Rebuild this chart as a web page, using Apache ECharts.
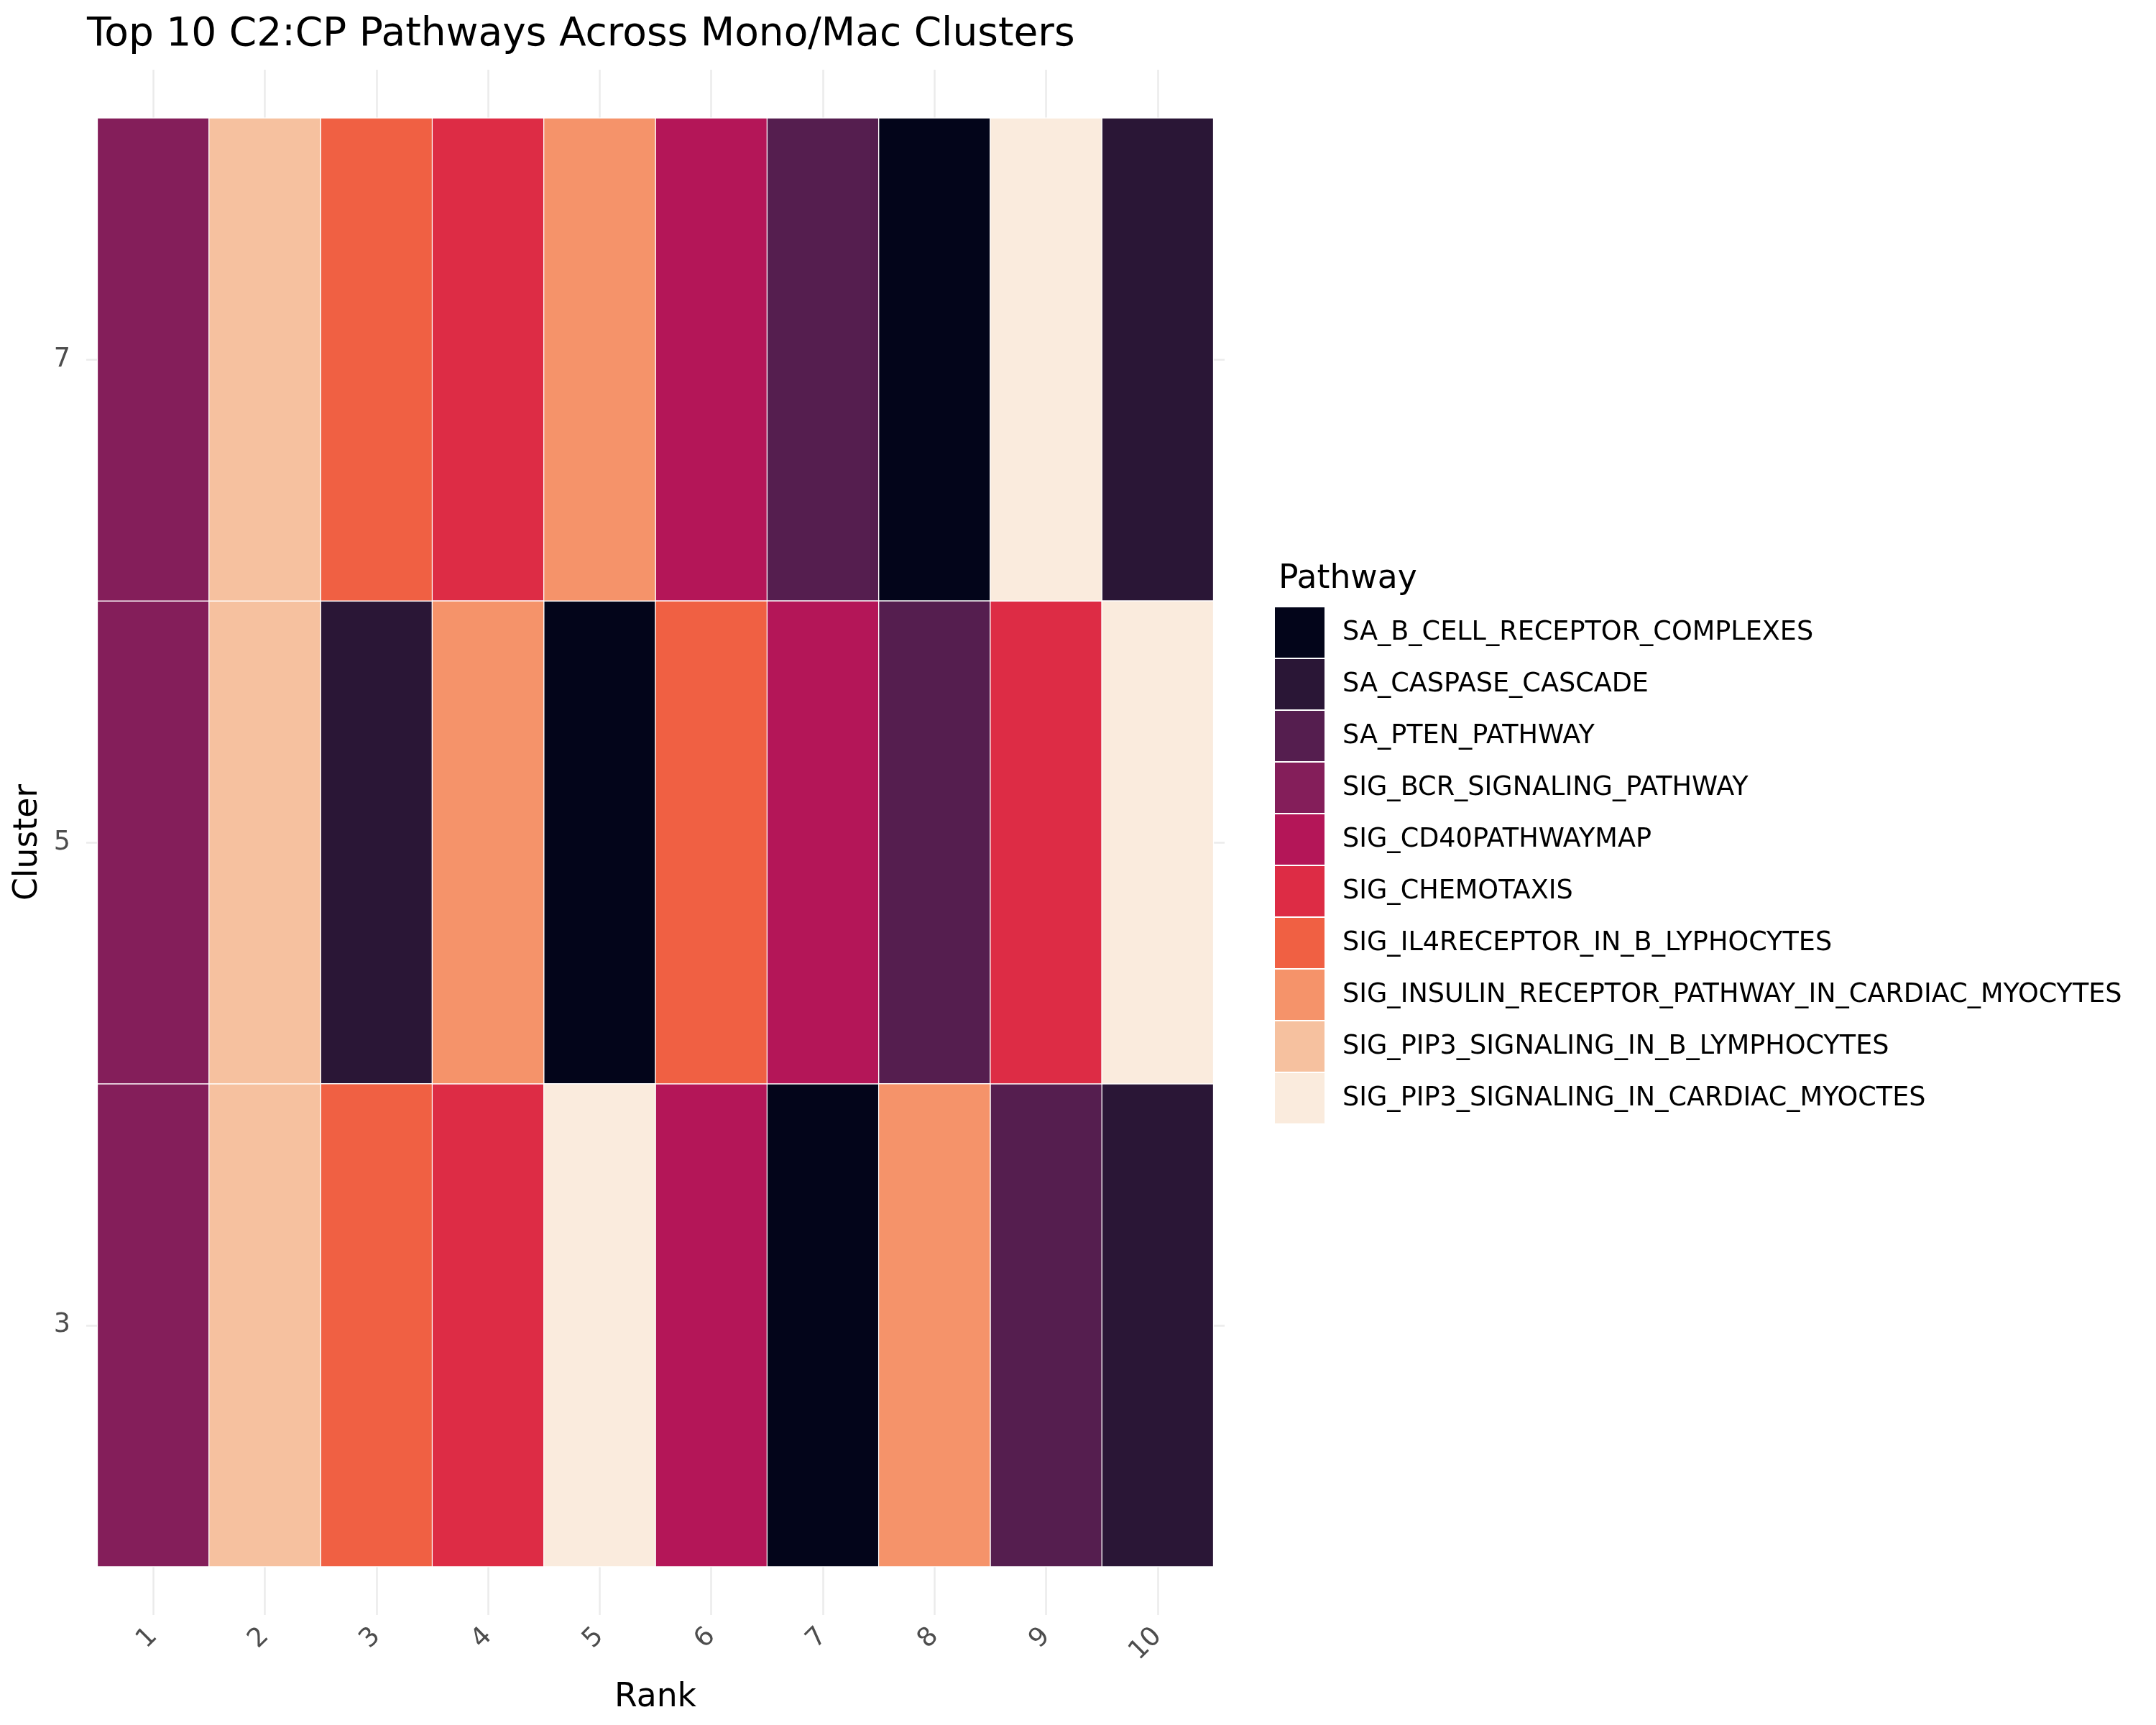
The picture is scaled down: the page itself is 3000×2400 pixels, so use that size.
<!DOCTYPE html>
<html>
<head>
<meta charset="utf-8">
<script src="https://cdn.jsdelivr.net/npm/echarts@6/dist/echarts.min.js"></script>
<style>
  html, body { margin: 0; padding: 0; background: #fff; }
  #chart { width: 3000px; height: 2400px; }
</style>
</head>
<body>
<div id="chart"></div>
<script>
// pathway names (legend order) and their rocket colours
const pathways = [
  'SA_B_CELL_RECEPTOR_COMPLEXES',
  'SA_CASPASE_CASCADE',
  'SA_PTEN_PATHWAY',
  'SIG_BCR_SIGNALING_PATHWAY',
  'SIG_CD40PATHWAYMAP',
  'SIG_CHEMOTAXIS',
  'SIG_IL4RECEPTOR_IN_B_LYPHOCYTES',
  'SIG_INSULIN_RECEPTOR_PATHWAY_IN_CARDIAC_MYOCYTES',
  'SIG_PIP3_SIGNALING_IN_B_LYMPHOCYTES',
  'SIG_PIP3_SIGNALING_IN_CARDIAC_MYOCTES'
];
const colors = ['#03051A', '#2A1636', '#551E4F', '#841E5A', '#B41658',
  '#DD2C45', '#F06043', '#F5936A', '#F6C19F', '#FAEBDD'];

const clusters = [3, 5, 7];
const ranks = [1, 2, 3, 4, 5, 6, 7, 8, 9, 10];
const clusterTicks = [3, 5, 7];

// pathway index at rank 1..10 for each cluster
const cluster7 = [3, 8, 6, 5, 7, 4, 2, 0, 9, 1];
const cluster5 = [3, 8, 1, 7, 0, 6, 4, 2, 5, 9];
const cluster3 = [3, 8, 6, 5, 9, 4, 0, 7, 2, 1];
const byCluster = { 3: cluster3, 5: cluster5, 7: cluster7 };

const fontFamily = 'DejaVu Sans';

function renderTile(params, api) {
  const x = api.value(0);
  const y = api.value(1);
  const p0 = api.coord([x - 0.5, y + 1]);
  const p1 = api.coord([x + 0.5, y - 1]);
  return {
    type: 'rect',
    shape: { x: p0[0], y: p0[1], width: p1[0] - p0[0], height: p1[1] - p0[1] },
    style: { fill: api.visual('color'), stroke: '#ffffff', lineWidth: 1.2 }
  };
}

const series = pathways.map((name, pi) => {
  const data = [];
  clusters.forEach(c => {
    byCluster[c].forEach((p, ri) => {
      if (p === pi) data.push([ranks[ri], c]);
    });
  });
  return {
    name: name,
    type: 'custom',
    renderItem: renderTile,
    itemStyle: { color: colors[pi] },
    encode: { x: 0, y: 1 },
    data: data
  };
});

const chart = echarts.init(document.getElementById('chart'));
chart.setOption({
  animation: false,
  backgroundColor: '#ffffff',
  textStyle: { fontFamily: fontFamily },
  title: [
    {
      text: 'Top 10 C2:CP Pathways Across Mono/Mac Clusters',
      left: 116, top: 16,
      textStyle: { fontFamily: fontFamily, fontSize: 55, fontWeight: 'normal', color: '#000' }
    },
    {
      text: 'Pathway',
      left: 1774, top: 778,
      textStyle: { fontFamily: fontFamily, fontSize: 45.7, fontWeight: 'normal', color: '#000' }
    }
  ],
  legend: {
    orient: 'vertical',
    left: 1774, top: 845,
    padding: 0,
    icon: 'rect',
    itemWidth: 69,
    itemHeight: 70,
    itemGap: 2,
    data: pathways,
    textStyle: { fontFamily: fontFamily, fontSize: 36.6, color: '#000', padding: [0, 0, 0, 20] }
  },
  grid: { left: 120, right: 1296, top: 97, bottom: 153, containLabel: false, outerBoundsMode: 'none' },
  xAxis: {
    type: 'value',
    min: 0.4, max: 10.6,
    name: 'Rank',
    nameLocation: 'middle',
    nameGap: 92,
    nameMoveOverlap: false,
    nameTextStyle: { fontFamily: fontFamily, fontSize: 45.7, color: '#000' },
    axisLine: { show: false },
    axisTick: { show: false, customValues: ranks },
    axisLabel: { customValues: ranks, rotate: 45, margin: 24, fontSize: 36.6, color: '#4D4D4D', fontFamily: fontFamily },
    splitLine: { show: true, lineStyle: { color: '#EBEBEB', width: 2.5 } }
  },
  yAxis: {
    type: 'value',
    min: 1.8, max: 8.2,
    name: 'Cluster',
    nameLocation: 'middle',
    nameGap: 58,
    nameMoveOverlap: false,
    nameTextStyle: { fontFamily: fontFamily, fontSize: 45.7, color: '#000' },
    axisLine: { show: false },
    axisTick: { show: false, customValues: clusterTicks },
    axisLabel: { customValues: clusterTicks, margin: 22, fontSize: 36.6, color: '#4D4D4D', fontFamily: fontFamily },
    splitLine: { show: true, lineStyle: { color: '#EBEBEB', width: 2.5 } }
  },
  series: series
});
</script>
</body>
</html>
